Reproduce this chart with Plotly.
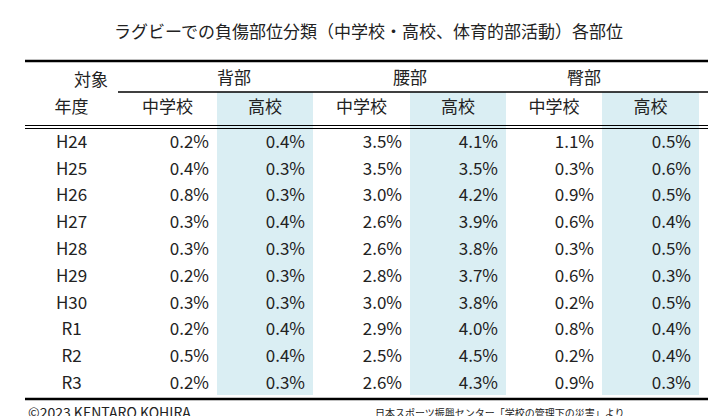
import plotly.graph_objects as go

# data
years = ["H24", "H25", "H26", "H27", "H28", "H29", "H30", "R1", "R2", "R3"]
back_jh = ["0.2%", "0.4%", "0.8%", "0.3%", "0.3%", "0.2%", "0.3%", "0.2%", "0.5%", "0.2%"]
back_hs = ["0.4%", "0.3%", "0.3%", "0.4%", "0.3%", "0.3%", "0.3%", "0.4%", "0.4%", "0.3%"]
waist_jh = ["3.5%", "3.5%", "3.0%", "2.6%", "2.6%", "2.8%", "3.0%", "2.9%", "2.5%", "2.6%"]
waist_hs = ["4.1%", "3.5%", "4.2%", "3.9%", "3.8%", "3.7%", "3.8%", "4.0%", "4.5%", "4.3%"]
hip_jh = ["1.1%", "0.3%", "0.9%", "0.6%", "0.3%", "0.6%", "0.2%", "0.8%", "0.2%", "0.9%"]
hip_hs = ["0.5%", "0.6%", "0.5%", "0.4%", "0.5%", "0.3%", "0.5%", "0.4%", "0.4%", "0.3%"]
groups = ["背部", "腰部", "臀部"]
sub_labels = ["年度", "中学校", "高校", "中学校", "高校", "中学校", "高校"]

W, H = 720, 416
col_w = [93, 99, 96, 97, 96, 96, 97]
x0, x_end = 17, 700
y_top, y_grp, y_head, y_bot = 53, 84, 119, 391
blue = "#DAEEF3"
font = "Noto Sans CJK JP"
fills = ["white", "white", blue, "white", blue, "white", blue]

def px(x):
    return x / W

def py(y):
    return 1 - y / H

fig = go.Figure(go.Table(
    domain=dict(x=[px(x0), px(x0 + sum(col_w))], y=[py(y_bot), py(y_grp)]),
    columnwidth=col_w,
    header=dict(values=sub_labels, height=35, align="center",
                fill_color=fills, line=dict(width=0, color="white"),
                font=dict(family=font, size=17, color="#222")),
    cells=dict(values=[years, back_jh, back_hs, waist_jh, waist_hs, hip_jh, hip_hs],
               height=26.8, align=["center"] + ["right"] * 6,
               fill_color=fills, line=dict(width=0, color="white"),
               font=dict(family=font, size=17, color="#222")),
))

shapes = []
def hline(y, xa, xb, w):
    shapes.append(dict(type="line", xref="paper", yref="paper", x0=px(xa), x1=px(xb),
                       y0=py(y), y1=py(y), layer="above", line=dict(color="black", width=w)))

hline(y_top, x0, x_end, 2.5)
hline(y_grp, x0 + col_w[0], x_end, 1.5)
hline(y_head - 1.5, x0, x_end, 1)
hline(y_head + 1.5, x0, x_end, 1)
hline(y_bot, x0, x_end, 2.5)

txt = dict(family=font, size=17, color="#222")
ann = []
ann.append(dict(text="対象", x=px(x0 + col_w[0] / 2), y=py(70), yanchor="middle",
                showarrow=False, font=txt))
for i, g in enumerate(groups):
    start = x0 + sum(col_w[:1 + 2 * i])
    ann.append(dict(text=g, x=px(start + (col_w[1 + 2 * i] + col_w[2 + 2 * i]) / 2), y=py(69),
                    yanchor="middle", showarrow=False, font=txt))
ann.append(dict(text="ラグビーでの負傷部位分類（中学校・高校、体育的部活動）各部位", x=0.5, y=py(22),
                yanchor="middle", showarrow=False, font=txt))
ann.append(dict(text="©2023 KENTARO KOHIRA", x=px(18), y=py(404), xanchor="left", yanchor="middle",
                showarrow=False, font=dict(family=font, size=14, color="#222")))
ann.append(dict(text="日本スポーツ振興センター「学校の管理下の災害」より", x=px(365), y=py(404),
                xanchor="left", yanchor="middle",
                showarrow=False, font=dict(family=font, size=10, color="#222")))

fig.update_layout(width=W, height=H, margin=dict(l=0, r=0, t=0, b=0),
                  paper_bgcolor="white", shapes=shapes, annotations=ann)
fig.write_html("out.html")
